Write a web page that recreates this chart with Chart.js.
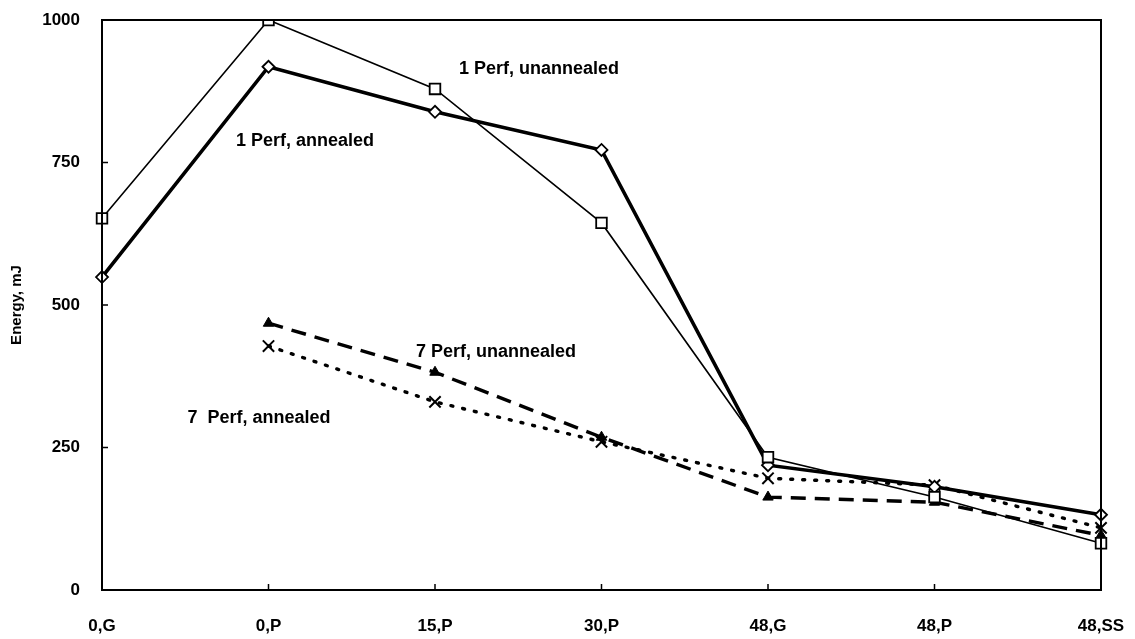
<!DOCTYPE html>
<html>
<head>
<meta charset="utf-8">
<title>Energy, mJ</title>
<script src="https://cdn.jsdelivr.net/npm/chart.js@4/dist/chart.umd.min.js"></script>
<style>
  html, body { margin: 0; padding: 0; background: #fff; }
  #wrap { width: 1135px; height: 639px; }
</style>
</head>
<body>
<div id="wrap"><canvas id="c" width="1135" height="639"></canvas></div>
<script>
// Categories along the x axis
const categories = ['0,G', '0,P', '15,P', '30,P', '48,G', '48,P', '48,SS'];

// Energy values (mJ) for each series
const onePerfUnannealed = [652, 1000, 879, 644, 233, 163, 82];
const onePerfAnnealed   = [549, 918, 839, 772, 219, 181, 132];
const sevenPerfUnannealed = [null, 468, 382, 268, 163, 154, 96];
const sevenPerfAnnealed   = [null, 428, 330, 260, 196, 184, 109];

// Y axis tick values
const yTicks = [0, 250, 500, 750, 1000];

// In-plot series labels: [text, category position, value]
const seriesLabels = [
  ['1 Perf, unannealed', 2.625, 914],
  ['1 Perf, annealed', 1.219, 788],
  ['7 Perf, unannealed', 2.366, 418],
  ['7  Perf, annealed', 0.943, 302]
];

const FONT = '"Liberation Sans", Arial, sans-serif';

// Draws the plot frame, inward tick marks and the series labels
const framePlugin = {
  id: 'frame',
  afterDraw(chart) {
    const { ctx, chartArea: a, scales } = chart;
    ctx.save();
    ctx.strokeStyle = '#000';
    ctx.lineWidth = 2;
    ctx.strokeRect(a.left, a.top, a.right - a.left, a.bottom - a.top);
    ctx.lineWidth = 1.5;
    ctx.beginPath();
    yTicks.forEach(v => {
      const y = scales.y.getPixelForValue(v);
      ctx.moveTo(a.left, y);
      ctx.lineTo(a.left + 6, y);
    });
    categories.forEach((c, i) => {
      const x = scales.x.getPixelForValue(i);
      ctx.moveTo(x, a.bottom);
      ctx.lineTo(x, a.bottom - 6);
    });
    ctx.stroke();
    ctx.fillStyle = '#000';
    ctx.font = 'bold 18px ' + FONT;
    ctx.textAlign = 'center';
    ctx.textBaseline = 'middle';
    seriesLabels.forEach(([t, xi, v]) => {
      ctx.fillText(t, scales.x.getPixelForValue(xi), scales.y.getPixelForValue(v));
    });
    ctx.restore();
  }
};

new Chart(document.getElementById('c'), {
  type: 'line',
  data: {
    labels: categories,
    datasets: [
      {
        label: '1 Perf, unannealed',
        data: onePerfUnannealed,
        borderColor: '#000',
        borderWidth: 1.6,
        pointStyle: 'rect',
        pointRadius: 7.5,
        pointBorderWidth: 1.8,
        pointBackgroundColor: '#fff',
        pointBorderColor: '#000'
      },
      {
        label: '1 Perf, annealed',
        data: onePerfAnnealed,
        borderColor: '#000',
        borderWidth: 3.6,
        pointStyle: 'rectRot',
        pointRadius: 6,
        pointBorderWidth: 1.8,
        pointBackgroundColor: '#fff',
        pointBorderColor: '#000'
      },
      {
        label: '7 Perf, unannealed',
        data: sevenPerfUnannealed,
        borderColor: '#000',
        borderWidth: 3.4,
        borderDash: [15, 9],
        pointStyle: 'triangle',
        pointRadius: 6,
        pointBorderWidth: 1,
        pointBackgroundColor: '#000',
        pointBorderColor: '#000'
      },
      {
        label: '7 Perf, annealed',
        data: sevenPerfAnnealed,
        borderColor: '#000',
        borderWidth: 3.4,
        borderDash: [2, 10],
        borderCapStyle: 'round',
        pointStyle: 'crossRot',
        pointRadius: 8,
        pointBorderWidth: 2,
        pointBackgroundColor: '#000',
        pointBorderColor: '#000'
      }
    ]
  },
  options: {
    responsive: false,
    animation: false,
    spanGaps: false,
    layout: { padding: { top: 20, right: 34, left: 0, bottom: 0 } },
    elements: { line: { tension: 0 } },
    plugins: {
      legend: { display: false },
      tooltip: { enabled: false }
    },
    scales: {
      x: {
        type: 'category',
        offset: false,
        grid: { display: false, drawTicks: false },
        border: { display: false },
        ticks: {
          color: '#000',
          padding: 26,
          maxRotation: 0,
          autoSkip: false,
          font: { family: FONT, size: 17, weight: 'bold' }
        },
        afterFit(scale) {
          scale.height = 49;
          scale.paddingLeft = 0;
          scale.paddingRight = 0;
        }
      },
      y: {
        min: 0,
        max: 1000,
        grid: { display: false, drawTicks: false },
        border: { display: false },
        afterBuildTicks(scale) { scale.ticks = yTicks.map(v => ({ value: v })); },
        ticks: {
          color: '#000',
          padding: 22,
          callback: v => String(v),
          font: { family: FONT, size: 17, weight: 'bold' }
        },
        title: {
          display: true,
          text: 'Energy, mJ',
          color: '#000',
          padding: { top: 8, bottom: 0 },
          font: { family: FONT, size: 15, weight: 'bold' }
        },
        afterFit(scale) {
          scale.width = 102;
          scale.paddingTop = 0;
          scale.paddingBottom = 0;
        }
      }
    }
  },
  plugins: [framePlugin]
});
</script>
</body>
</html>
